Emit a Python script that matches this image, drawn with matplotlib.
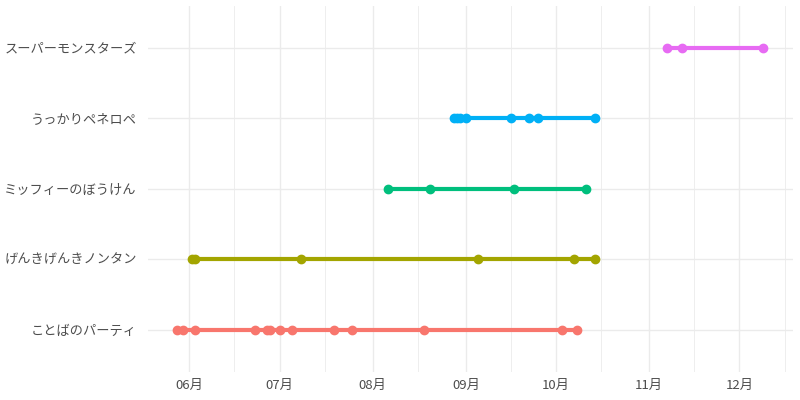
import matplotlib
matplotlib.use('Agg')
import matplotlib.pyplot as plt
import matplotlib.dates as mdates
import pandas as pd

plt.rcParams['font.family'] = ['Noto Sans CJK JP', 'DejaVu Sans']

# Programs (bottom to top) and the dates they aired
programs = ['ことばのパーティ', 'げんきげんきノンタン', 'ミッフィーのぼうけん',
            'うっかりペネロペ', 'スーパーモンスターズ']
colors = ['#F8766D', '#A3A500', '#00BF7D', '#00B0F6', '#E76BF3']

dates_kotoba = ['2023-05-28', '2023-05-30', '2023-06-03', '2023-06-23', '2023-06-27',
                '2023-06-28', '2023-07-01', '2023-07-05', '2023-07-19', '2023-07-25',
                '2023-08-18', '2023-10-03', '2023-10-08']
dates_nontan = ['2023-06-02', '2023-06-03', '2023-07-08', '2023-09-05', '2023-10-07',
                '2023-10-14']
dates_miffy = ['2023-08-06', '2023-08-20', '2023-09-17', '2023-10-11']
dates_penelope = ['2023-08-28', '2023-08-29', '2023-08-30', '2023-09-01', '2023-09-16',
                  '2023-09-22', '2023-09-25', '2023-10-14']
dates_monsters = ['2023-11-07', '2023-11-12', '2023-12-09']

all_dates = [dates_kotoba, dates_nontan, dates_miffy, dates_penelope, dates_monsters]

fig = plt.figure(figsize=(8, 4), dpi=100)
ax = fig.add_axes([0.185, 0.07, 0.806, 0.916])

for i, (d, c) in enumerate(zip(all_dates, colors)):
    x = pd.to_datetime(d)
    ax.plot(x, [i] * len(x), '-o', color=c, linewidth=3, markersize=6, zorder=3)

# ggplot-like expansion
lo = pd.Timestamp('2023-05-28')
hi = pd.Timestamp('2023-12-09')
pad = (hi - lo) * 0.05
ax.set_xlim(lo - pad, hi + pad)
ax.set_ylim(-0.6, len(programs) - 0.4)

ax.set_yticks(range(len(programs)))
ax.set_yticklabels(programs)

ax.xaxis.set_major_locator(mdates.MonthLocator())
ax.xaxis.set_minor_locator(mdates.MonthLocator(bymonthday=16))
ax.xaxis.set_major_formatter(mdates.DateFormatter('%m月'))

ax.grid(True, which='major', color='#EBEBEB', linewidth=1.0)
ax.grid(True, which='minor', axis='x', color='#EBEBEB', linewidth=0.6)
ax.set_axisbelow(True)
for s in ax.spines.values():
    s.set_visible(False)
ax.tick_params(which='both', length=0)
ax.tick_params(axis='y', labelsize=9.5, labelcolor='#4D4D4D', pad=8)
ax.tick_params(axis='x', labelsize=9.5, labelcolor='#4D4D4D', pad=5)

fig.savefig('out.png', dpi=100)
